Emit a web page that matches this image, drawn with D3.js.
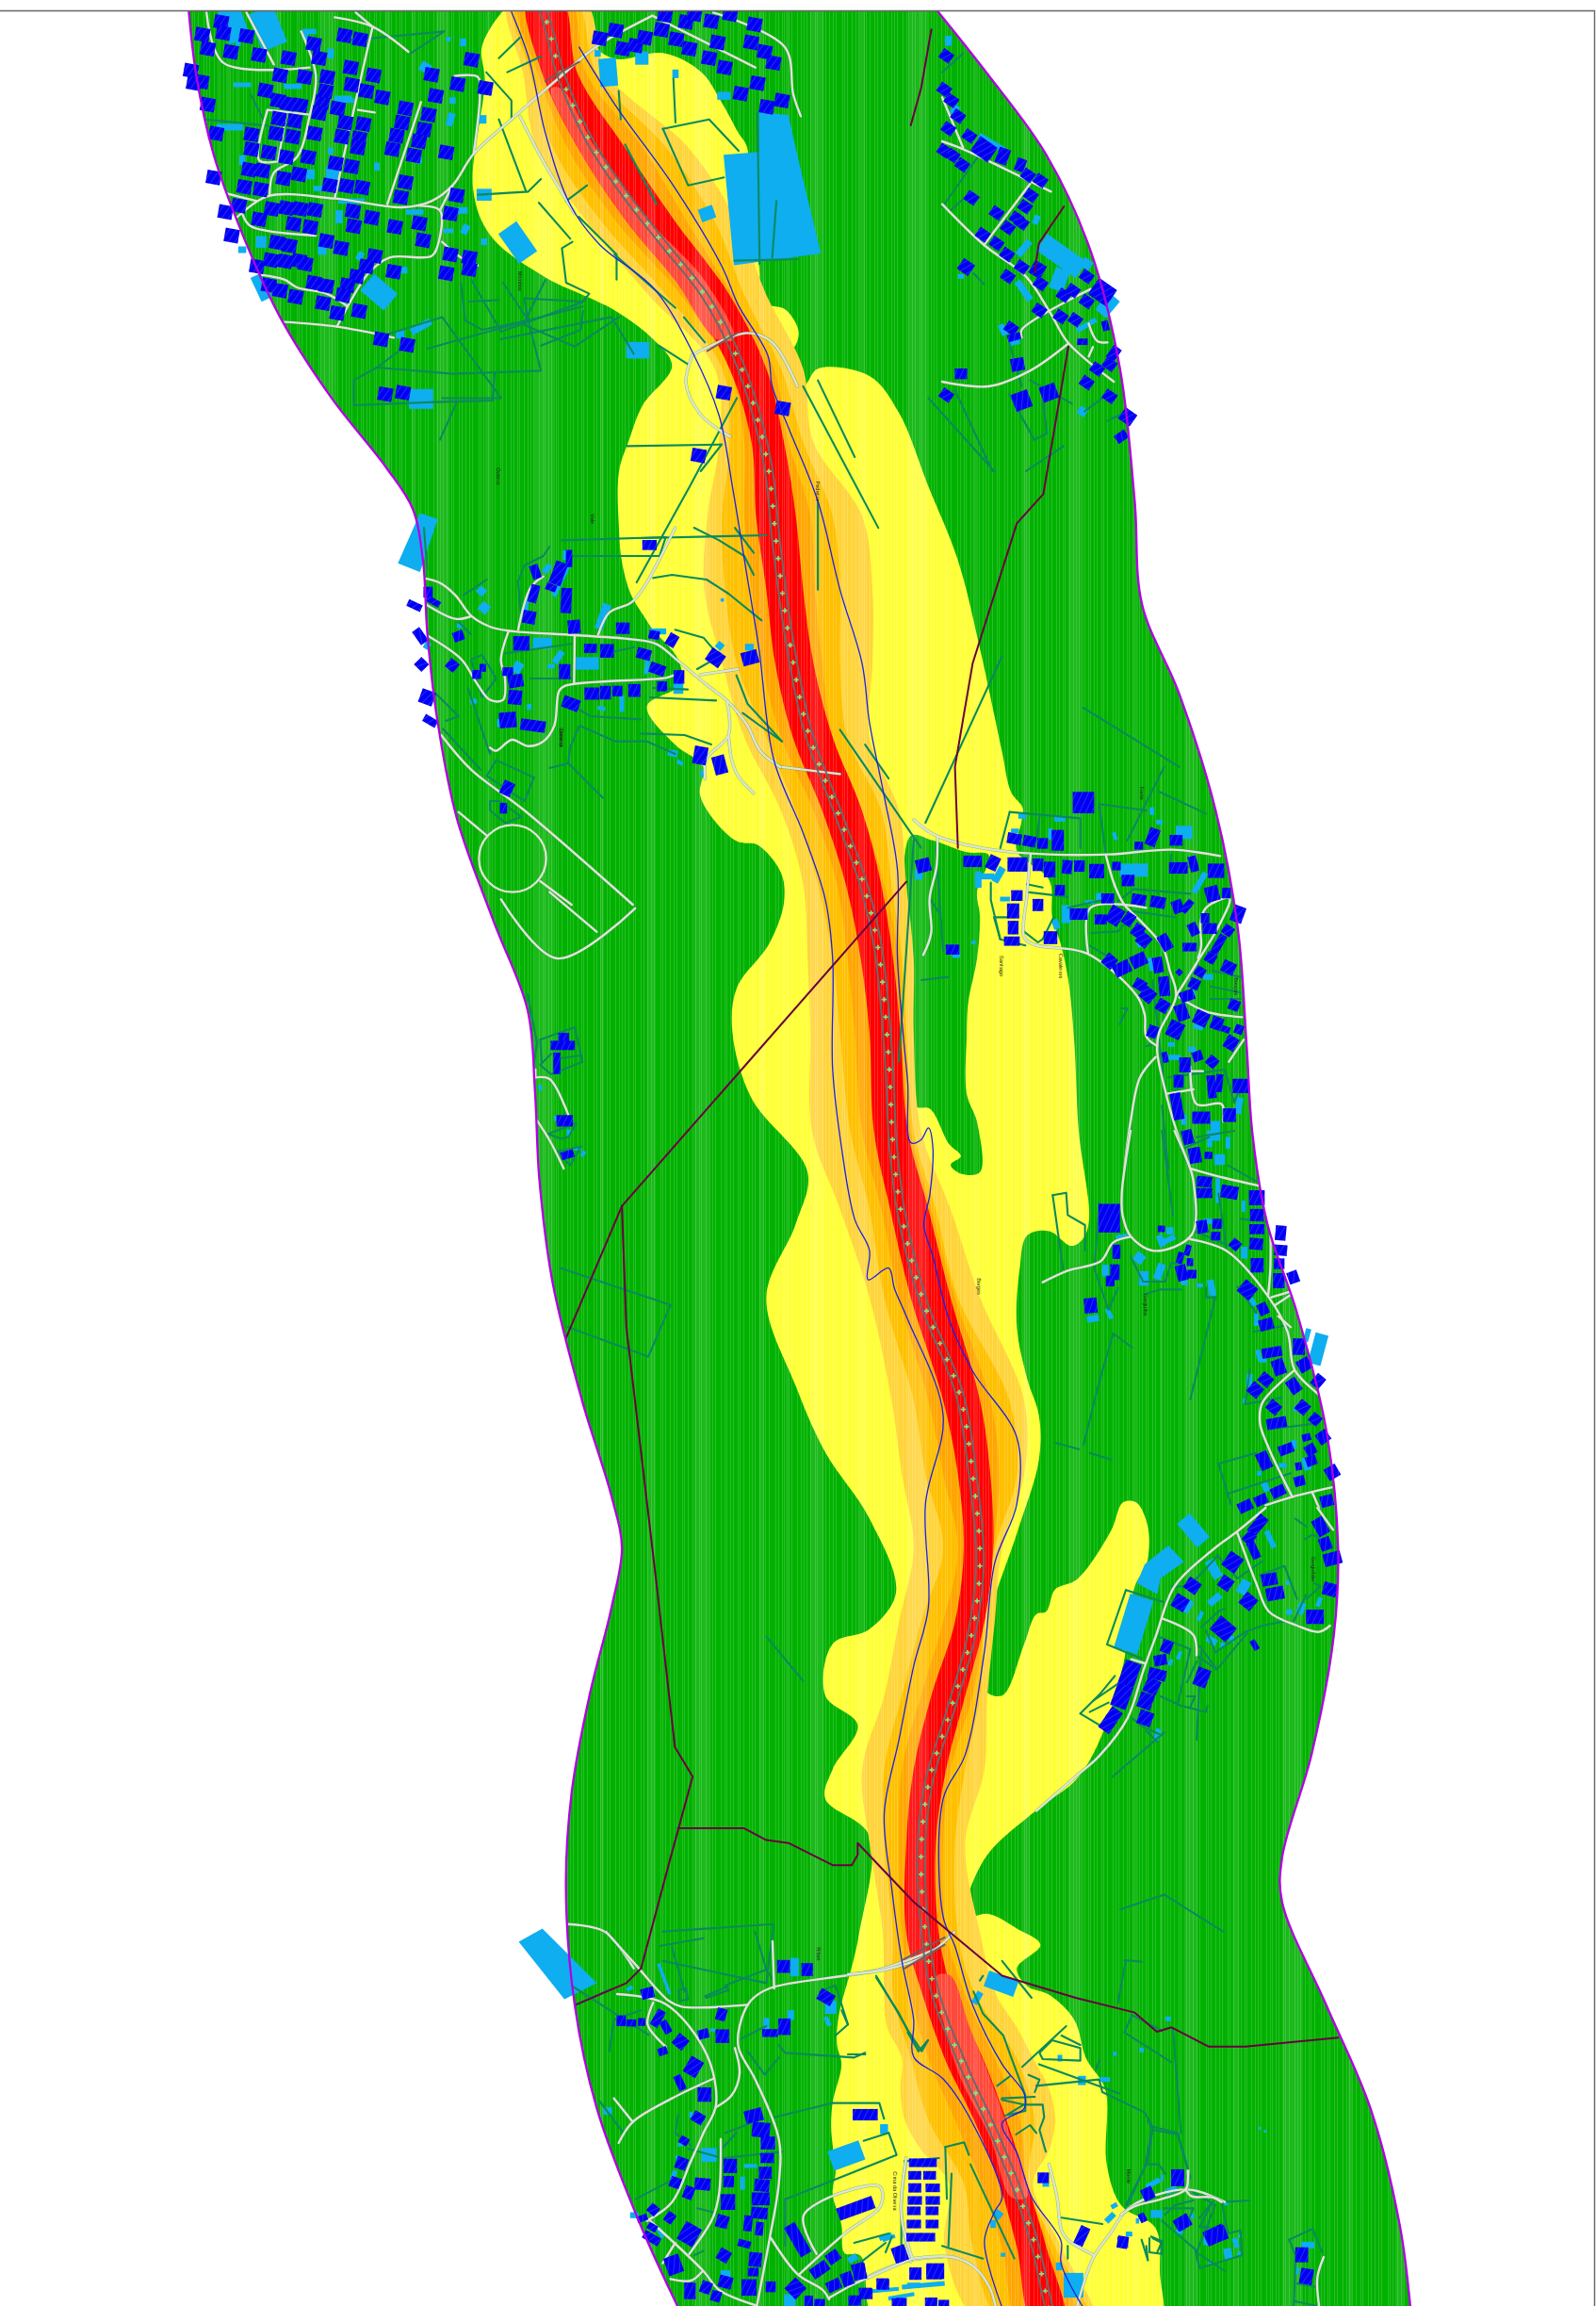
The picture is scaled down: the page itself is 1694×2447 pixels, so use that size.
<!DOCTYPE html>
<html><head><meta charset="utf-8">
<script src="https://cdnjs.cloudflare.com/ajax/libs/d3/7.8.5/d3.min.js"></script>
<style>html,body{margin:0;padding:0;background:#fff}svg{display:block}</style></head><body>
<svg id="map" width="1694" height="2447"></svg>
<script>
// ---- map data: corridor limits, in overview map units ----
const corridorLeft=[[127,-5],[133,50],[145,105],[165,160],[190,215],[225,270],[262,317],[280,345],[287,380],[290,430],[297,490],[310,555],[335,625],[358,685],[363,740],[366,800],[375,870],[395,950],[415,1015],[422,1050],[415,1090],[400,1150],[388,1215],[384,1280],[390,1360],[405,1430],[435,1510],[465,1575]];
const corridorRight=[[626,-5],[670,50],[710,105],[740,170],[760,250],[770,340],[775,410],[800,470],[825,550],[840,630],[846,710],[850,770],[860,830],[880,890],[900,970],[908,1050],[905,1110],[890,1190],[870,1260],[870,1290],[900,1360],[930,1430],[950,1510],[958,1575]];
const roadAxis=[[366,0],[372,18],[381,52],[401,97],[425,133],[450,165],[478,200],[497,235],[510,270],[521,315],[527,370],[535,430],[548,495],[570,555],[586,600],[596,644],[603,717],[606,777],[612,825],[627,884],[651,945],[660,1000],[665,1060],[659,1110],[645,1160],[630,1210],[625,1260],[629,1321],[633,1345],[640,1368],[649,1390],[659,1413],[669,1434],[679,1457],[688,1479],[696,1502],[703,1525],[708,1548],[714,1575]];
// noise bands: [y, left, right]
const bandPale=[[0,345,396],[50,355,412],[100,364,467],[150,398,500],[200,440,520],[250,485,545],[300,488,552],[350,480,585],[400,478,592],[450,490,592],[500,505,590],[550,530,610],[600,545,615],[650,548,620],[700,550,620],[767,551,625],[820,570,645],[880,590,665],[950,605,695],[1000,612,695],[1050,620,680],[1100,610,675],[1150,600,670],[1200,585,668],[1250,590,655],[1311,599,665],[1353,600,676],[1375,602,690],[1396,612,701],[1417,611,712],[1438,614,716],[1458,625,712],[1481,644,701],[1524,641,720],[1575,665,742]];
const bandOrange=[[0,349,390],[50,360,405],[100,375,452],[150,408,485],[200,452,505],[250,490,530],[300,495,545],[350,490,565],[400,492,570],[450,500,570],[500,520,575],[550,540,598],[600,555,605],[650,565,612],[700,570,615],[767,577,620],[820,590,635],[880,600,650],[950,620,685],[1000,628,690],[1050,640,675],[1100,625,668],[1150,612,665],[1200,600,655],[1250,600,648],[1311,606,650],[1353,606,662],[1396,618,690],[1438,630,702],[1481,654,698],[1524,660,716],[1575,680,738]];
const bandDeep=[[0,352,386],[50,365,398],[100,385,436],[150,418,466],[200,462,497],[250,495,525],[300,505,535],[350,505,550],[400,510,553],[450,517,558],[500,530,565],[550,552,585],[600,568,600],[650,575,610],[700,580,612],[767,585,618],[820,598,632],[880,610,648],[950,630,672],[1000,640,678],[1050,650,674],[1100,640,668],[1150,625,660],[1200,612,645],[1250,610,640],[1311,612,642],[1353,618,655],[1396,630,675],[1438,648,692],[1481,666,697],[1524,680,712],[1575,692,730]];
const bandRed=[[0,358,381],[50,368,392],[100,392,424],[150,425,458],[200,466,495],[250,495,520],[300,510,532],[350,513,540],[400,520,545],[450,526,552],[500,538,565],[550,558,585],[600,574,598],[650,584,606],[700,590,611],[767,593,616],[820,604,630],[880,618,645],[950,640,665],[1000,650,672],[1050,654,674],[1100,648,668],[1150,632,655],[1200,620,642],[1250,615,635],[1311,615,637],[1353,626,647],[1396,641,667],[1438,661,683],[1481,678,697],[1524,690,710],[1575,701,722]];
const bandSalmonNorth=[[60,374,381],[100,392,404],[150,425,441],[190,458,478],[230,486,498]];
const bandSalmonSouth=[[1340,636,645],[1375,641,658],[1410,652,672],[1450,672,686],[1490,686,697]];
const yellowOutline=[[340,9],[327,32],[329,55],[321,128],[333,160],[370,188],[400,202],[418,211],[441,228],[456,248],[436,275],[427,298],[420,320],[420,358],[422,381],[428,403],[437,418],[443,427],[460,447],[462,464],[439,479],[458,505],[477,520],[475,539],[486,558],[501,571],[514,573],[530,592],[532,612],[522,640],[500,670],[497,700],[510,745],[548,795],[540,830],[520,880],[540,940],[560,985],[590,1030],[608,1080],[590,1105],[565,1115],[560,1150],[582,1170],[565,1200],[560,1220],[590,1245],[583,1311],[579,1330],[569,1368],[568,1387],[571,1400],[565,1426],[564,1443],[565,1455],[567,1473],[565,1488],[571,1509],[573,1528],[584,1530],[597,1580],[785,1580],[787,1541],[784,1511],[761,1496],[751,1468],[750,1417],[737,1396],[729,1370],[712,1353],[697,1347],[690,1335],[706,1319],[690,1308],[670,1298],[652,1302],[655,1290],[670,1258],[703,1228],[731,1206],[748,1176],[763,1125],[770,1076],[778,1061],[779,1036],[771,1019],[762,1019],[754,1038],[731,1071],[716,1078],[710,1093],[703,1095],[695,1115],[680,1150],[667,1145],[672,1095],[690,1040],[705,990],[705,960],[697,935],[690,900],[692,860],[697,838],[712,835],[727,845],[735,840],[739,827],[732,767],[729,707],[725,665],[720,641],[714,622],[712,597],[690,577],[693,558],[694,548],[686,537],[680,510],[665,440],[650,380],[630,330],[610,280],[590,255],[555,250],[545,262],[530,258],[520,240],[535,240],[542,226],[533,210],[518,205],[515,180],[508,140],[507,100],[501,90],[490,70],[476,49],[450,36],[418,40],[404,32],[390,5],[345,5]];
const greenHole=[[618,567],[633,570],[656,578],[671,580],[663,605],[665,622],[663,650],[657,680],[656,703],[656,742],[663,761],[665,795],[652,796],[645,790],[652,784],[644,776],[631,752],[621,750],[619,703],[616,650]];
const riverWest=[[347,8],[359,40],[370,90],[387,139],[407,166],[444,196],[470,239],[488,282],[497,330],[506,385],[515,440],[525,515],[545,565],[560,610],[565,650],[565,725],[571,778],[580,827],[590,848],[589,868],[603,860],[607,874],[616,895],[640,960],[628,1020],[630,1090],[620,1130],[610,1180],[600,1230],[605,1280],[612,1330],[620,1370],[620,1395],[640,1410],[660,1440],[680,1490],[675,1500],[668,1520],[680,1565]];
const riverEast=[[393,32],[418,72],[457,126],[490,181],[501,207],[521,241],[524,262],[535,290],[555,340],[570,400],[585,450],[590,490],[600,540],[609,590],[609,650],[613,703],[616,735],[618,775],[625,773],[630,765],[633,778],[631,810],[627,831],[633,852],[644,895],[660,930],[690,975],[690,1020],[675,1060],[668,1120],[655,1190],[640,1220],[640,1300],[648,1320],[660,1360],[680,1400],[695,1420],[695,1430],[680,1440],[690,1460],[700,1490],[720,1520],[720,1535],[735,1565]];
const powerLines=[[[632,20],[625,60],[618,85]],[[722,140],[705,165],[702,185]],[[725,235],[708,335],[690,355],[660,450],[648,520],[650,575]],[[615,598],[422,818],[383,910]],[[422,818],[425,900],[445,1070],[458,1185],[470,1205],[455,1260],[435,1335],[425,1345],[390,1360]],[[460,1240],[505,1240],[520,1248],[535,1250],[565,1265],[578,1265],[582,1258],[582,1250],[620,1290],[650,1315],[680,1340],[730,1355],[770,1365],[785,1378],[795,1375],[820,1388],[845,1388],[908,1382]]];
const overpassBars=[[[370,55],[393,42]],[[480,238],[500,226]],[[613,1329],[641,1314]],[[614,1335],[641,1319]]];
const factoryBlock=[[491,105],[515,103],[515,76],[535,78],[541,105],[557,172],[498,180]];
const westApron=[[270,382],[285,348],[297,352],[285,388]];
const southApron=[[352,1317],[368,1308],[405,1345],[383,1356]];
const overviewRoads=[[[385,1305],[410,1310],[430,1335]],[[529,520],[570,525]],[[431,616],[378,650],[340,610]],[[405,632],[373,605]]];
const overviewFences=[[[500,270],[468,330],[432,395]],[[435,365],[520,363]],[[545,262],[596,358]],[[555,258],[580,310]],[[630,270],[675,320]],[[680,445],[628,558]],[[570,495],[625,575]],[[587,505],[603,528]],[[620,570],[610,720]],[[555,340],[555,400]],[[635,575],[640,645]],[[735,480],[800,520]],[[790,520],[765,570]],[[370,190],[355,220],[390,235],[420,215]],[[320,190],[340,225],[395,205]],[[340,230],[415,215],[430,240]],[[262,227],[300,215],[340,270],[300,270]],[[380,860],[455,885],[440,920],[385,900]],[[680,1330],[700,1355]],[[760,1295],[790,1285],[830,1310]],[[705,1400],[760,1420]],[[815,1120],[812,1180]],[[545,1140],[520,1110]],[[385,1345],[440,1380]],[[450,1310],[525,1305],[520,1345],[450,1330]],[[755,1205],[790,1175]]];
// ---- sheet A (north-west) ----
const nwHouses=[[190,70],[195,105],[145,110],[158,155],[213,165],[250,115],[280,175],[350,185],[410,140],[423,185],[483,113],[520,125],[498,215],[552,240],[442,245],[330,240],[388,245],[295,288],[325,320],[348,330],[378,335],[430,325],[438,290],[500,270],[535,290],[573,310],[467,345],[423,360],[327,378],[365,385],[320,425],[360,435],[412,425],[485,390],[528,395],[477,435],[518,440],[515,470],[628,345],[683,365],[620,390],[672,412],[607,432],[660,450],[597,475],[648,495],[725,485],[462,520],[500,530],[397,500],[262,428],[178,425],[262,475],[303,485],[345,500],[256,540],[288,543],[375,555],[338,568],[245,595],[284,603],[448,590],[488,592],[525,597],[628,580],[617,628],[750,622],[735,680],[118,225],[125,265],[143,260],[158,333],[172,565],[200,675],[215,750],[232,655],[280,698],[310,665],[345,662],[378,665],[413,668],[503,672],[548,693],[603,722],[661,711],[505,720],[362,713],[402,723],[275,848],[308,828],[342,832],[375,830],[390,840],[322,772],[352,782],[440,767],[475,790],[670,765],[735,810],[780,820],[780,857],[725,870],[555,815],[535,848],[600,865],[512,880],[490,908],[480,940],[410,900],[440,910],[303,908],[330,925],[367,945],[432,965],[466,997],[518,990],[570,1080],[632,1098],[580,1255],[622,1250],[690,238],[700,305],[752,268],[818,280],[785,190],[1090,122],[1128,97],[1145,155],[1175,145],[1197,120],[1237,95],[1272,125],[1245,48],[1295,70],[1315,45],[1355,68],[1400,45],[1458,78],[1370,135],[1303,155],[1350,185],[1387,215],[1450,135],[1482,165],[1503,200],[1465,265],[1425,298],[1523,320],[1487,340],[1325,1450],[1525,1300],[1385,1250]];
const nwSheds=[[220,75,50,110,-20],[300,90,60,120,-22],[490,320,30,14,0],[240,270,40,14,0],[400,100,30,16,0],[675,215,24,30,30],[815,620,34,36,0],[500,640,60,16,0],[470,690,16,40,0],[650,675,40,16,0],[735,380,16,40,15],[770,730,16,30,25],[730,735,22,14,0],[565,930,70,66,40],[895,772,50,110,-35],[665,1040,50,22,-30],[615,1065,20,24,0],[665,1270,55,60,0],[1110,230,40,85,-5],[1190,185,30,40,0],[1345,680,34,40,-20],[810,380,20,26,0],[1180,1115,52,50,0],[1385,305,30,24,0],[285,915,26,80,-25],[240,795,18,20,0],[765,135,14,24,0],[730,125,10,14,0],[420,600,20,16,0],[480,315,40,20,0],[455,555,30,50,0],[400,555,24,30,0],[360,275,40,16,0],[450,170,14,30,0],[390,110,14,30,0],[240,510,14,30,0],[210,405,60,20,0],[430,790,20,40,0],[285,770,24,36,0],[815,770,14,20,0],[1085,170,14,20,0],[1270,235,14,26,0],[230,130,12,30,0],[560,530,12,24,0],[660,510,14,20,0],[740,320,14,20,0],[760,670,30,20,0],[520,815,14,26,30],[625,860,14,20,0],[450,480,12,20,0]];
const nwRoads=[[[155,40],[195,200],[400,215]],[[250,40],[315,205]],[[380,100],[415,240],[400,370],[370,500],[315,550],[305,620]],[[300,350],[400,365]],[[300,350],[280,510],[320,515]],[[345,360],[325,515]],[[460,55],[550,85],[635,165]],[[510,40],[550,85]],[[550,85],[510,320],[460,630]],[[515,350],[555,358]],[[665,325],[585,650]],[[225,695],[300,625],[460,632],[620,660],[690,640],[740,590],[790,490],[880,380],[1000,240],[1080,150],[1215,50]],[[1215,50],[1460,215]],[[1360,40],[1530,150],[1550,300],[1568,370]],[[745,242],[800,245],[805,300],[790,490]],[[660,655],[710,670],[705,780],[690,815],[590,820],[540,870],[465,1040]],[[710,670],[740,590]],[[200,615],[275,640]],[[240,680],[260,720],[415,750]],[[285,875],[340,890],[370,915],[440,935],[490,975]],[[340,1025],[465,1040],[600,1075]],[[715,770],[760,820],[800,845]],[[900,370],[950,500],[1030,680]],[[1310,1130],[1440,1060],[1500,1090],[1560,1230]],[[1310,1130],[1295,1220],[1330,1320],[1400,1390]]];
const nwFences=[[[820,230],[880,320],[880,380]],[[850,185],[900,120]],[[870,230],[950,180]],[[1240,410],[1350,380],[1420,480]],[[1240,410],[1300,590],[1385,565]],[[1265,250],[1270,390]],[[1135,290],[1140,380]],[[1150,460],[1225,650]],[[1025,770],[1000,790],[1010,900],[1065,935],[1050,960],[910,950],[920,1020],[1050,975]],[[945,645],[1020,760]],[[1060,590],[1010,640]],[[850,380],[915,610]],[[800,620],[920,610],[950,570]],[[1040,690],[1130,810],[1130,890]],[[1125,810],[1270,980]],[[680,1110],[920,1020],[950,1180],[740,1190],[560,1170],[505,1210],[505,1290],[700,1280],[835,1275],[840,1190]],[[950,1100],[1045,1050],[1050,990]],[[760,900],[770,1020],[810,1050],[920,1020]],[[860,900],[920,1020]],[[780,960],[850,955]],[[710,1400],[750,1280]],[[1155,1420],[1380,1415],[1330,1500]],[[1230,1100],[1300,1160]],[[1290,1010],[1340,1090]],[[1465,360],[1470,840]],[[1510,640],[1500,820]],[[1410,830],[1560,825]],[[480,130],[720,100],[640,170]],[[620,1110],[560,1170]],[[150,380],[300,400]],[[260,300],[290,380]]];
// ---- sheet C (north-east) ----
const neHouses=[[10,178],[5,285],[22,320],[38,370],[15,410],[65,433],[100,475,44,50,35],[145,497,25,45,20],[187,525,20,36,20],[205,558],[235,575],[5,480],[25,495],[48,525],[212,622],[198,658],[178,695],[190,710],[157,725],[130,775],[155,810],[97,747],[130,678],[70,630],[57,850,28,36,35],[157,880],[190,850],[228,858,28,40,30],[235,903],[290,940],[312,925],[345,960],[383,930,46,55,35],[345,880],[232,988],[283,1008],[318,1018],[165,1045],[172,1073,28,20,-15],[180,1160,28,36,-10],[45,1190,26,30,0],[255,1250,34,44,-20],[190,1275,36,50,-20],[10,1258],[345,1218],[400,1262],[335,1088,22,18,0],[370,1175],[400,1160],[410,1125,20,40,35],[390,1037,14,28,-15],[443,1327,30,38,35],[428,1390,26,26,-35]];
const neSheds=[[285,815,110,60,35],[395,972,32,66,40],[280,890,34,66,20],[195,925,16,70,-35],[195,790,16,56,40],[345,840,24,30,35],[335,1310,20,26,35],[120,455,70,16,30],[30,350,16,30,30],[172,1090,26,16,-10],[145,1050,14,36,-25],[45,880,14,14,0],[345,1035,50,16,-30],[15,130,16,30,0],[225,700,14,28,20]];
const neRoads=[[[0,450],[50,475],[260,610]],[[0,310],[50,470]],[[0,650],[100,780],[200,880],[260,1000],[300,1090],[410,1215]],[[210,585],[100,780]],[[355,920],[190,1050],[190,1075]],[[300,1095],[210,1180],[110,1230],[0,1215]],[[350,1030],[370,1085],[395,1090]],[[360,1105],[350,1135]]];
const neFences=[[[30,1240],[120,1500]],[[160,1255],[220,1400],[250,1380],[240,1260]],[[210,1210],[310,1285]],[[395,1340],[440,1310]],[[340,1310],[400,1250]],[[200,1500],[290,1420]],[[0,230],[50,170]],[[20,670],[70,610],[90,630]],[[90,490],[0,660]],[[160,1090],[190,1230]],[[75,870],[100,905]]];
// ---- sheet W (west hamlet) ----
const westHouses=[[73,205,26,30,0],[90,235,40,18,30],[30,248,42,20,25],[48,345,25,45,-35],[52,435,30,30,45],[70,540,40,40,20],[80,615,40,22,30],[170,345,30,28,-20],[150,438,30,30,40],[228,467,25,25,0],[247,446,18,22,0],[327,458,30,24,0],[352,488,42,36,-10],[350,540,38,40,5],[327,612,48,44,-5],[407,630,70,32,8],[370,368,45,40,0],[395,285,36,36,10],[415,140,25,40,-20],[488,145,35,65,20],[465,190,30,20,20],[410,210,25,50,15],[522,98,18,48,0],[513,232,30,70,3],[538,315,35,38,-5],[590,384,36,26,0],[643,392,38,38,0],[693,320,38,32,0],[760,402,40,30,15],[803,450,44,30,20],[793,341,30,24,10],[850,358,28,36,30],[988,414,45,40,35],[1098,414,46,38,-15],[872,475,30,38,0],[818,505,28,28,0],[730,518,34,36,0],[676,520,28,30,0],[638,525,30,38,0],[595,528,42,34,0],[528,560,48,34,20],[508,458,32,42,0],[778,55,40,28,0],[940,725,38,50,10],[1002,755,36,52,-15],[325,830,32,40,25],[313,893,20,30,0]];
const westSheds=[[243,202,25,25,45],[252,255,30,30,40],[437,368,58,34,0],[488,412,20,42,35],[580,432,70,38,0],[630,283,26,80,20],[358,445,28,35,30],[495,170,16,100,25],[512,88,18,30,0],[452,130,18,30,40],[852,718,30,20,10],[1002,376,22,22,40],[1096,380,26,20,0],[385,250,14,50,10],[770,440,14,50,5],[805,330,50,18,0],[870,510,30,36,0],[690,560,14,50,0],[395,570,14,18,0],[218,553,20,16,-20],[174,312,18,14,0],[625,575,24,12,10],[300,622,14,24,0],[465,441,22,14,0],[875,748,20,12,30],[70,375,18,22,30],[1010,230,10,10,0],[948,782,14,22,0]];
const westRoads=[[[55,160],[110,175],[160,215],[210,280],[270,315],[330,328],[540,342],[720,355],[800,370],[870,425],[960,500],[1030,555],[1090,630],[1130,710],[1195,762]],[[60,240],[160,290],[210,282]],[[330,328],[305,420],[318,480],[312,548],[270,548],[225,490],[180,420],[65,340]],[[360,325],[400,190],[440,155]],[[540,342],[538,495]],[[855,470],[830,478],[510,503],[490,520],[475,630],[440,680],[390,695],[340,675],[290,710],[270,700]],[[615,340],[650,270],[720,238],[760,190],[860,0]],[[1025,555],[1030,660],[960,735],[955,800]],[[1030,660],[1040,740],[1060,790],[1110,845]],[[940,468],[1060,450]],[[115,660],[210,770],[380,900],[725,1200]],[[170,905],[260,980]],[[430,1125],[530,1200]]];
const westFences=[[[1110,150],[1080,90],[1000,40],[920,0]],[[790,160],[850,150],[960,165],[1030,210],[1135,295]],[[500,40],[830,30],[810,90],[530,90]],[[460,60],[440,90],[380,120],[360,170],[370,290]],[[555,630],[670,680],[770,680],[860,720]],[[520,750],[630,860]],[[460,765],[520,750],[525,700],[555,630]],[[750,655],[890,660],[975,690]],[[860,325],[950,350],[1010,420]],[[780,540],[990,550]],[[1000,410],[930,450]],[[1075,590],[1130,630],[1200,680]],[[290,740],[410,795],[380,870],[260,790],[290,740]],[[185,215],[260,165]],[[270,870],[300,870],[370,920],[320,940],[270,900],[270,870]],[[120,640],[240,770]],[[210,420],[245,405],[290,480],[245,540],[210,420]],[[60,0],[70,130]],[[200,510],[270,720],[270,700]],[[540,570],[590,600],[750,610]],[[1055,470],[1090,560],[1200,680]],[[790,510],[900,515]],[[1050,0],[1110,80]],[[400,480],[530,480]],[[320,400],[530,370]],[[640,400],[730,380]],[[100,530],[170,600],[130,615]],[[170,300],[210,340]]];
// ---- sheet E (east hamlet) ----
const eastHouses=[[540,35,60,60,0],[320,150,40,30,10],[368,158,36,30,10],[410,165,30,30,0],[458,155,34,58,0],[760,145,30,50,20],[835,155,36,30,0],[716,172,24,22,0],[187,222,52,32,0],[252,227,32,40,25],[330,232,56,40,0],[395,233,30,35,0],[432,248,32,44,0],[488,240,28,38,5],[527,237,30,32,0],[582,253,42,40,0],[645,237,24,24,0],[682,283,36,32,0],[842,243,52,32,0],[890,230,24,44,-15],[962,252,46,40,0],[950,325,38,42,-15],[995,323,24,30,0],[30,235,40,38,-15],[123,503,38,28,0],[465,314,28,30,0],[617,340,36,28,0],[716,344,40,30,10],[777,352,42,32,10],[840,366,30,36,-20],[870,365,20,40,40],[525,390,50,32,0],[595,407,34,28,0],[640,395,40,50,30],[684,406,30,36,35],[713,443,30,36,35],[732,472,36,36,40],[800,480,30,46,-30],[878,495,40,24,0],[890,438,26,36,-25],[927,403,24,28,0],[942,436,40,30,0],[1000,442,30,28,35],[970,487,22,60,30],[945,530,30,28,30],[1002,560,38,34,25],[1032,390,34,46,20],[623,540,34,36,40],[663,563,48,36,-25],[716,537,44,36,-25],[777,552,28,44,-10],[845,575,16,16,40],[911,574,28,28,30],[893,612,30,30,25],[797,620,30,55,-5],[720,615,34,30,30],[745,647,38,38,40],[792,682,34,34,30],[870,650,40,30,-20],[853,703,34,46,-20],[915,722,40,40,25],[965,738,32,36,20],[993,757,24,18,20],[1035,757,24,26,20],[1020,680,30,30,20],[832,758,42,46,25],[760,764,28,34,20],[1010,800,34,38,30],[800,846,16,30,-10],[863,870,32,42,0],[903,842,28,28,-20],[950,860,30,30,40],[843,922,28,36,0],[948,940,24,64,-5],[972,928,20,50,5],[1040,937,44,40,0],[838,1002,30,75,-10],[915,1038,50,34,0],[1005,1030,36,38,0],[435,465,38,36,0],[312,476,44,26,0],[316,433,30,38,0],[316,380,34,42,0],[328,331,32,30,0],[395,361,30,34,0]];
const eastSheds=[[465,86,34,18,0],[345,78,24,16,0],[758,62,14,24,0],[782,97,20,14,0],[860,130,50,40,0],[640,142,12,24,-20],[435,135,14,34,0],[322,125,24,14,0],[700,250,85,40,0],[910,290,18,70,30],[485,390,28,55,0],[270,265,22,50,30],[205,280,20,50,0],[235,270,40,18,0],[290,342,30,14,0],[452,422,20,30,-20],[560,352,30,12,0],[590,335,20,24,0],[820,805,22,14,0],[885,820,22,16,0],[830,846,36,16,0],[960,1080,30,60,0],[975,1170,30,30,0],[860,1045,16,30,0],[15,265,24,30,0],[135,522,24,14,0],[937,590,30,18,0],[1035,1000,20,50,10],[755,550,14,40,-10],[730,480,40,16,-30],[190,480,12,12,0],[880,645,30,20,-25],[905,750,30,14,15]];
const eastRoads=[[[0,90],[70,140],[250,185],[430,200],[620,200],[820,185],[975,205]],[[75,145],[72,240],[50,340],[55,450],[30,520]],[[372,200],[360,330],[352,465],[385,488],[550,515],[710,650],[735,710],[740,780],[775,810]],[[612,205],[640,300],[670,360],[720,410],[790,490],[815,570],[835,650],[780,770],[775,830],[800,950],[830,1060],[880,1200]],[[555,515],[562,370],[740,370]],[[835,650],[910,530],[970,430],[1005,340],[930,370],[912,420],[915,490],[905,530]],[[845,655],[930,700],[1045,718]],[[770,845],[720,910],[690,1050],[670,1200]],[[805,962],[890,948]],[[880,875],[900,995],[980,995],[985,1050]],[[880,890],[920,890]],[[1050,790],[1003,860]]];
const eastFences=[[[305,65],[530,85]],[[305,65],[275,180]],[[590,40],[740,60]],[[780,0],[930,70]],[[590,40],[610,190]],[[245,290],[245,345],[275,470],[355,490]],[[275,470],[255,400],[300,400]],[[360,295],[410,305]],[[360,320],[490,335]],[[490,370],[600,345]],[[565,450],[650,445],[690,400]],[[560,490],[610,520]],[[650,350],[700,310],[880,325]],[[690,380],[830,400]],[[820,200],[815,240],[900,240]],[[945,620],[1040,640]],[[950,570],[1040,590]],[[945,660],[1040,660]],[[740,810],[780,800]],[[660,690],[680,690],[655,740]],[[810,910],[990,885],[1020,990],[1045,930]],[[25,600],[110,590]],[[50,340],[80,385]],[[800,960],[760,600]],[[350,445],[395,480],[410,470],[445,400]],[[830,950],[850,950]],[[900,1100],[1020,1080]],[[790,1000],[810,1200]],[[850,1140],[940,1100]],[[530,90],[530,180]],[[400,80],[390,170]]];
// ---- sheet S1 (south-east upper) ----
const se1Houses=[[482,20,30,40,-15],[505,78,34,44,-10],[548,78,22,20,0],[535,162,42,30,5],[535,198,44,28,0],[615,195,48,36,10],[702,213,44,42,0],[702,268,38,34,0],[702,313,42,28,0],[700,360,38,32,5],[703,428,36,40,0],[778,325,30,42,5],[778,380,36,30,5],[773,423,30,30,0],[772,477,32,42,0],[818,466,30,34,-20],[232,278,60,80,0],[528,305,30,36,-10],[575,296,26,28,0],[571,335,26,24,0],[633,362,28,28,40],[398,312,20,18,0],[255,385,22,40,0],[250,450,26,44,0],[235,478,24,30,0],[482,380,16,30,15],[458,404,18,32,15],[489,418,18,22,0],[463,452,30,44,-15],[495,456,26,24,0],[173,556,36,42,-5],[672,506,44,42,40],[722,567,28,34,-25],[732,616,40,32,-15],[836,687,34,46,0],[750,705,56,28,-10],[853,745,36,36,-30],[772,752,34,44,-20],[897,797,30,36,40],[730,792,36,32,40],[820,812,32,42,-35],[697,825,36,36,40],[756,880,36,32,40],[848,880,34,34,40],[888,918,30,30,40],[765,930,56,30,-10],[913,975,34,34,-35],[860,976,24,20,-15],[795,1013,42,28,-20],[873,1015,30,30,-30],[875,1050,30,28,-20],[835,1068,18,22,-10],[942,1087,36,36,-30],[838,1115,30,28,-15],[725,1050,34,50,-25],[770,1148,40,30,-25],[715,1175,36,28,-25],[925,1178,36,32,-15],[665,1195,40,30,-25]];
const se1Sheds=[[552,25,16,50,0],[610,38,14,36,0],[583,93,30,30,0],[578,190,14,75,0],[660,240,12,34,0],[240,310,44,20,0],[272,336,36,12,-10],[397,350,20,36,-20],[425,345,36,16,-25],[425,318,22,22,0],[328,405,30,30,40],[342,470,30,44,0],[392,448,24,50,20],[558,500,20,50,-10],[520,492,20,12,0],[472,484,20,14,0],[180,598,36,20,-10],[232,582,14,34,-25],[662,388,20,36,0],[220,445,20,36,0],[897,695,40,95,15],[862,650,16,40,15],[708,715,14,36,-15],[722,730,22,14,0],[678,795,18,40,5],[690,545,16,24,-30],[700,600,14,40,0],[820,998,16,26,0],[785,1065,24,14,0],[860,1060,22,40,-15],[730,1133,20,30,-20],[710,1090,14,14,0],[545,288,30,16,0],[662,860,10,14,0],[825,885,14,14,0]];
const se1Roads=[[[440,0],[490,120],[500,160],[495,330],[375,382],[300,335],[275,270],[272,200],[300,0]],[[300,337],[245,355],[205,415],[100,445],[20,482]],[[490,120],[600,150],[710,175]],[[490,345],[605,382],[740,530],[800,640],[822,760],[900,840]],[[738,525],[745,440],[745,290]],[[748,530],[815,510]],[[760,555],[820,515]],[[770,590],[810,625]],[[822,762],[720,865],[712,930],[740,1010],[815,1165]],[[730,1192],[815,1165],[940,1135]],[[878,1150],[900,1200]]];
const se1Fences=[[[52,205],[95,197],[100,268],[155,300],[155,380]],[[52,205],[85,440]],[[245,645],[305,690]],[[245,645],[200,800],[150,1000]],[[60,993],[135,1013]],[[170,1025],[240,1047]],[[570,530],[490,855]],[[400,0],[435,270]],[[580,1060],[700,1025]],[[580,1060],[620,1190]],[[610,1155],[810,1090]],[[680,760],[665,870],[780,850]],[[640,495],[700,580]],[[690,640],[790,620]],[[345,520],[395,505],[460,505]],[[540,500],[540,530],[570,530]],[[200,230],[185,440],[230,570],[260,500]],[[510,150],[505,320],[600,360]],[[580,200],[605,370]],[[650,280],[740,290]],[[300,400],[340,480],[410,480],[430,420],[460,425]],[[740,950],[860,935],[900,930]],[[610,110],[700,160]]];
// ---- sheet S2 (south-east lower) ----
const se2Houses=[[705,55,30,60,40],[678,95,28,34,40],[692,135,24,50,-25],[905,60,34,50,-30],[920,115,32,36,-20],[943,162,50,36,-15],[935,260,40,36,15],[887,347,50,40,0],[625,173,44,48,35],[603,240,36,36,35],[497,248,40,36,35],[742,228,44,34,-10],[760,273,50,36,-10],[675,298,40,40,40],[458,302,40,40,30],[595,385,58,50,40],[415,442,30,36,20],[395,485,36,30,-10],[385,530,50,30,15],[368,568,40,42,25],[348,615,40,44,20],[347,670,40,40,20],[527,540,38,52,20],[695,437,16,30,-30],[297,528,46,68,20],[272,600,46,66,20],[247,660,36,36,35],[225,692,36,36,35]];
const se2Sheds=[[500,72,50,95,-40],[310,370,74,170,17],[565,195,30,60,-30],[660,252,30,44,30],[568,292,22,44,50],[485,315,16,40,30],[522,345,12,30,25],[745,100,16,56,-25],[843,320,22,36,20],[900,300,14,30,20],[558,422,34,20,30],[593,437,14,14,0],[622,418,16,20,0],[805,332,18,16,0],[385,722,16,36,15],[455,470,12,26,20],[427,492,12,20,20],[800,238,10,14,0]];
const se2Pools=[[320,240],[345,180],[420,120],[470,172],[395,225],[385,275]];
const se2Roads=[[[730,0],[640,75],[560,135],[440,250],[380,410],[340,520],[290,670],[200,790],[120,860],[0,965]],[[640,80],[700,240],[740,330],[830,375],[900,395],[935,375]],[[895,0],[945,70]],[[400,352],[500,405],[510,470]],[[302,482],[345,495]]];
const se2Fences=[[[285,262],[225,435],[335,480]],[[285,262],[405,300]],[[580,150],[510,225],[470,250],[430,250]],[[575,150],[640,225],[720,170]],[[710,215],[790,185],[830,290]],[[860,275],[820,360]],[[540,390],[570,460],[665,395],[720,375],[795,360]],[[575,515],[670,400]],[[525,380],[580,330],[600,320]],[[510,470],[575,515],[520,440]],[[390,410],[490,450],[450,625]],[[395,600],[460,630],[540,650],[545,630]],[[480,600],[505,600],[490,635]],[[140,655],[205,590],[250,535]],[[140,655],[240,715]],[[170,650],[230,620]],[[180,615],[260,560]],[[305,670],[335,695],[390,720]],[[510,490],[480,555]],[[700,100],[645,90]],[[860,290],[905,250],[885,240]],[[855,100],[880,85],[945,120]],[[825,35],[860,60]],[[350,710],[385,745]]];
// ---- sheet S3 (south-west) ----
const swHouses=[[262,195,36,30,-15],[178,283,26,30,0],[210,290,28,20,0],[243,287,20,22,0],[295,275,24,50,30],[320,303,22,38,-30],[367,350,36,36,40],[310,380,26,22,-20],[408,430,40,50,30],[365,480,22,44,-25],[440,325,30,26,-15],[497,263,28,34,15],[500,332,38,38,0],[443,518,38,40,0],[423,592,34,30,30],[378,665,26,22,30],[370,737,32,34,20],[350,798,30,30,20],[437,803,44,34,5],[393,830,28,36,20],[280,884,28,28,40],[245,912,30,18,-20],[333,910,26,30,35],[277,940,28,20,30],[275,975,50,24,30],[395,962,50,56,30],[345,1060,44,52,-20],[397,1143,32,46,0],[448,1132,30,34,20],[480,1160,28,30,15],[510,1115,38,34,15],[505,1030,34,34,30],[500,922,34,36,15],[518,860,40,44,0],[525,745,38,40,0],[520,795,30,32,0],[600,585,50,36,-15],[623,630,50,42,5],[645,672,40,36,0],[643,720,38,28,0],[637,767,36,34,0],[626,807,42,34,5],[622,850,50,36,0],[618,895,46,32,5],[582,928,24,44,5],[618,945,22,38,5],[570,993,36,20,15],[605,1043,36,40,5],[598,1083,30,24,0],[585,1132,42,46,0],[654,1130,28,30,0],[733,1135,44,44,45],[695,110,36,36,0],[770,120,32,36,0],[830,208,44,34,30],[652,322,44,22,0],[698,302,34,46,0],[955,582,70,32,0],[925,880,105,36,-20],[740,980,34,95,-30],[810,1075,52,32,-35],[853,1035,36,32,-35],[855,1125,40,30,-25],[898,1105,32,38,-20],[937,1082,36,44,-10],[958,1152,36,30,0],[1012,1122,34,30,0],[922,1175,36,26,0],[1115,1088,32,34,0],[1175,1083,44,40,0],[1068,1025,34,44,-20],[1117,735,40,24,0],[1160,735,40,24,0],[1113,775,36,24,0],[1160,775,36,24,0],[1113,815,36,26,0],[1170,815,40,24,0],[1113,855,40,24,0],[1170,855,40,24,0],[1110,888,38,24,0],[1168,888,36,24,0],[1110,930,40,24,0],[1168,930,36,24,0],[1110,972,42,24,0],[1155,972,40,24,0],[1165,1180,34,28,0],[1070,1180,30,26,0],[775,1175,24,30,0],[810,1180,30,20,0]];
const swSheds=[[730,112,26,56,0],[315,150,10,100,-20],[718,265,20,30,0],[640,295,18,40,0],[835,285,14,30,-25],[845,240,36,40,0],[458,710,46,42,0],[590,745,40,12,0],[565,800,14,40,0],[1015,628,24,30,0],[895,712,100,62,-20],[205,180,20,12,-30],[135,570,26,22,0],[345,775,14,30,20],[510,1090,30,24,0],[715,1175,36,40,0],[220,902,26,18,0],[305,958,16,30,-30],[1030,975,40,12,-20],[915,1040,20,14,-30],[1020,1140,80,12,-5],[1110,1125,40,16,0],[365,678,14,10,0],[355,718,8,12,0],[400,582,10,18,0],[470,312,14,10,0]];
const swRoads=[[[130,0],[220,100],[330,220],[370,238],[580,232]],[[165,198],[320,230],[450,390],[480,550],[440,640],[400,730],[340,860],[260,920]],[[280,225],[262,295],[320,365]],[[1190,50],[1000,120],[650,180],[590,220],[555,300],[552,370],[605,470],[680,660],[680,800],[650,980],[610,1190]],[[660,30],[665,180]],[[540,370],[555,450],[530,520],[480,558]],[[470,468],[340,530],[215,605],[170,672]],[[155,530],[215,605]],[[495,660],[490,830],[470,910],[395,1025]],[[265,915],[440,1080],[490,1140],[610,1190]],[[350,990],[310,1055]],[[335,1105],[400,1110],[435,1082]],[[655,975],[740,1090],[820,1140],[840,1170]],[[745,1090],[890,960],[1005,870],[1000,810],[760,900],[800,1025]],[[840,1165],[1000,1080],[1100,1045],[1200,1035]],[[1085,730],[1070,900],[1100,1050]]];
const swFences=[[[300,45],[440,20]],[[340,50],[380,190]],[[445,205],[515,175],[520,185],[450,210],[445,205]],[[360,185],[385,180],[390,215],[365,220],[360,185]],[[510,170],[640,120],[660,150]],[[605,0],[640,120]],[[560,340],[640,300]],[[580,380],[635,455],[680,400]],[[680,360],[700,385],[920,400],[955,385]],[[665,590],[850,545],[1000,545],[1015,595]],[[705,850],[1055,710],[1030,640]],[[700,850],[700,1000]],[[950,665],[1030,640]],[[990,145],[1060,255],[1125,380],[1155,345]],[[1090,320],[1125,380]],[[860,330],[900,295],[880,250]],[[810,190],[860,170],[900,295]],[[140,380],[155,280],[240,250]],[[35,230],[150,180]],[[510,640],[590,610]],[[505,720],[690,700]],[[390,690],[500,720]],[[360,580],[350,640],[400,680]],[[225,850],[340,790]],[[1080,730],[1190,720]],[[930,1060],[1020,990]],[[110,540],[185,640]],[[1020,1020],[1040,970]],[[420,880],[480,895]],[[545,640],[490,700]],[[410,1030],[440,1015]]];
// ---- sheet S4 (south) ----
const sHouses=[[622,783,32,30,0],[1050,782,36,46,0],[955,833,32,34,-25],[938,910,18,26,-25],[1065,925,44,34,-30],[1170,965,60,44,-25],[875,988,30,34,10],[745,968,28,54,25],[215,1088,34,34,0],[278,1080,50,44,0],[35,1080,36,44,-15],[110,1120,34,30,0],[55,1150,36,30,0],[265,1180,34,28,0],[20,1172,30,26,0],[165,1025,38,44,-20],[160,1180,36,24,0],[305,1185,30,24,0]];
const sSheds=[[488,165,95,50,20],[412,210,20,40,30],[675,402,14,20,0],[745,473,24,28,0],[818,470,32,14,0],[848,872,20,14,-30],[835,910,34,18,-45],[970,800,44,14,-30],[1030,822,36,18,-20],[985,900,30,16,0],[630,805,20,12,0],[718,1125,60,75,0],[672,1065,18,24,0],[478,900,24,24,40],[462,930,16,24,0],[895,962,16,14,0],[494,1028,14,12,0],[1020,277,16,14,0],[850,388,12,12,0],[935,376,14,14,0],[120,970,40,14,-20],[240,1125,130,14,-5],[170,1160,80,12,-10],[15,1040,30,20,-30]];
const sRoads=[[[0,135],[120,120],[250,75],[340,0]],[[205,1040],[330,1035],[400,1065],[450,1130],[470,1191]],[[0,1130],[100,1085],[205,1040]],[[185,720],[170,900],[205,1040]],[[1200,860],[1080,820],[900,875],[835,960],[780,1040],[730,1191]],[[1080,820],[1085,760]],[[640,740],[665,840],[680,950],[700,980],[785,1030]]];
const sFences=[[[90,140],[155,250],[195,320],[235,380],[255,345]],[[420,155],[430,140]],[[400,190],[430,260],[495,330],[520,400],[565,520],[565,570],[500,585]],[[475,490],[515,460]],[[490,530],[595,525]],[[490,535],[560,550],[510,580]],[[560,550],[620,550],[625,590],[610,630],[630,700]],[[535,645],[580,615],[600,640]],[[310,685],[370,670],[385,710]],[[310,685],[315,850]],[[390,740],[530,1040]],[[555,430],[695,300]],[[650,345],[740,370],[740,410],[620,405],[610,385],[650,345]],[[680,330],[740,360]],[[575,455],[610,470],[595,510]],[[600,490],[800,470],[810,510],[945,575],[970,620],[1050,640],[1090,780]],[[970,620],[945,750],[890,870]],[[955,740],[990,740],[1010,770]],[[880,90],[935,95]],[[885,90],[860,225]],[[905,265],[880,320],[1030,415]],[[905,265],[1000,315]],[[1035,310],[1045,440],[1060,640]],[[800,410],[790,440]],[[680,910],[810,930]],[[950,1000],[955,1045]],[[965,970],[1000,985],[985,1020]],[[1100,830],[1170,870],[1110,1020],[1200,1080]],[[1005,880],[1100,880],[1070,950]],[[700,1000],[700,1040]],[[300,1000],[430,1040]],[[330,770],[320,1000]],[[0,390],[55,390]],[[20,990],[130,960]],[[170,920],[170,1040]]];
// ---- sheet R (far south-east) ----
const rHouses=[[180,183,36,46,0],[86,235,32,32,-25],[197,325,40,36,-30],[68,310,18,22,-30],[305,365,56,40,-20],[575,428,36,42,0],[590,497,36,44,10],[5,388,30,30,0]];
const rSheds=[[105,200,40,14,-30],[160,222,36,14,-20],[113,298,36,24,0],[185,355,22,14,0],[225,305,16,14,0],[275,385,24,24,0],[340,425,24,34,-10],[365,390,16,30,-15],[375,425,10,16,0],[285,455,10,10,0],[595,397,40,20,0],[562,480,10,20,0],[25,362,20,14,0],[52,320,10,16,0],[440,25,8,8,0],[458,35,8,8,0],[130,183,8,20,0],[380,368,10,10,0],[335,265,14,10,0]];
const rRoads=[[[0,300],[40,275],[130,250],[205,220],[212,160]],[[205,220],[225,242],[290,245],[320,260]],[[645,435],[625,500],[630,590]]];
const rFences=[[[85,130],[100,30],[180,45],[210,150],[220,185]],[[85,130],[15,270]],[[85,0],[100,30]],[[320,260],[410,255]],[[320,260],[340,360],[380,350],[385,430],[250,470],[235,410],[130,320]],[[140,300],[170,270],[230,255]],[[250,310],[290,260],[250,340],[280,340]],[[535,380],[610,345],[640,420]],[[535,380],[555,430],[550,590]],[[550,575],[620,590]],[[560,520],[620,530]],[[65,380],[85,445]],[[90,375],[90,420],[130,425],[130,390],[100,375]]];
// ---- sheet V (west margin, mid height) ----
const vHouses=[[175,185,30,30,0],[172,208,68,26,0],[153,265,20,60,0],[178,448,46,32,0],[187,556,36,22,-15]];
const vSheds=[[100,342,10,18,-10],[190,485,12,18,0],[155,440,20,16,0],[237,553,12,18,30],[220,537,24,10,0]];
const vRoads=[[[85,310],[130,315],[190,430]],[[85,440],[130,510],[175,600]],[[85,310],[85,285]]];
const vFences=[[[100,190],[210,150],[235,260],[135,300],[100,270],[135,235]],[[100,190],[105,260]],[[160,250],[230,240]],[[125,490],[215,455],[190,500],[165,505],[125,490]],[[155,545],[230,530],[195,590],[155,545]],[[60,45],[90,200],[75,300]]];
// ---- labels ----
const placeNames=[["Moinhos","A",900,895],["Devesa","W",497,670],["Santiago","E",280,555],["Cavaleiros","E",468,555],["Bouças","E",1025,620],["Borges","Z",868,1095],["Gorgulha","S1",347,553],["Gorgulhão","S2",883,195],["Ribas","S3",808,70],["Cima da Oliveira","S3",1050,825],["Monte","S4",895,778],["Outeiro","M",338,323],["Vale","M",402,352],["Pedreira","M",555,333],["Lameira","M",381,500],["Fonte","M",775,538]];
// texture of the grid columns: gaps between lighter hairlines
const hairlineGaps=[3,2,4,1,3,5,2,2,4,3,1,3,6,2,3,1,4,2,5,3,2,2,3,4,1,5,2,3,3,2,6,1,2,4,3,2,5,1,3,4,2,3,1,4,3,2,2,5,3,1];
const wideBands=[[12,5],[40,3],[66,14],[118,6],[170,22],[240,4],[290,9],[340,16]];

// ---- scales ----
const sheet=(x0,y0,kx,ky)=>({x:d3.scaleLinear().domain([0,1000]).range([x0,x0+1000/kx]),y:d3.scaleLinear().domain([0,1000]).range([y0,y0+1000/ky]),kx,ky});
const M=sheet(0,0,1083/1694,1564/2447);
const sheets={M,A:sheet(150,0,2.24,3),C:sheet(1000,0,2.25,3),W:sheet(430,560,3,3),E:sheet(970,840,3,3),S1:sheet(1100,1200,3,3),S2:sheet(1100,1600,3,3),S3:sheet(600,2050,3,3),S4:sheet(900,2050,3,3),Z:sheet(750,1000,3,3),R:sheet(1190,2250,3,3),V:sheet(540,1040,3,3)};

const svg=d3.select("#map");
const defs=svg.append("defs");
const lineOf=(s,c)=>d3.line().x(d=>s.x(d[0])).y(d=>s.y(d[1])).curve(c||d3.curveLinear);
const band=(rows)=>rows.map(r=>[r[1],r[0]]).concat(rows.slice().reverse().map(r=>[r[2],r[0]]));
const smooth=d3.curveCatmullRomClosed.alpha(0.5);
const edge=d3.line().x(d=>M.x(d[0])).y(d=>M.y(d[1])).curve(d3.curveCatmullRom.alpha(0.5));
const closedCorridor=edge(corridorLeft)+"L"+edge(corridorRight.slice().reverse()).slice(1)+"Z";
defs.append("clipPath").attr("id","cor").append("path").attr("d",closedCorridor);
defs.append("clipPath").attr("id","page").append("rect").attr("x",0).attr("y",11).attr("width",1692).attr("height",2436);

// hairline texture
let run=0;const hair=[];hairlineGaps.forEach(g=>{run+=g;hair.push(run);run+=1});
const pat=defs.append("pattern").attr("id","hair").attr("patternUnits","userSpaceOnUse").attr("width",run).attr("height",40);
pat.selectAll("rect").data(hair).join("rect").attr("x",d=>d).attr("y",0).attr("width",1).attr("height",40).attr("fill","#fff").attr("fill-opacity",.16);
const pat2=defs.append("pattern").attr("id","wide").attr("patternUnits","userSpaceOnUse").attr("width",397).attr("height",40);
pat2.selectAll("rect").data(wideBands).join("rect").attr("x",d=>d[0]).attr("y",0).attr("width",d=>d[1]).attr("height",40).attr("fill","#fff").attr("fill-opacity",.1);
const bpat=defs.append("pattern").attr("id","bld").attr("patternUnits","userSpaceOnUse").attr("width",6).attr("height",6).attr("patternTransform","rotate(25)");
bpat.append("rect").attr("width",6).attr("height",6).attr("fill","#0000f4");
bpat.append("rect").attr("width",1).attr("height",6).attr("fill","#2c2cf0");

const root=svg.append("g").attr("clip-path","url(#page)");
const zone=root.append("g").attr("clip-path","url(#cor)");
zone.append("path").attr("d",closedCorridor).attr("fill","#00b200");
zone.append("path").attr("d",lineOf(M,smooth)(yellowOutline)).attr("fill","#ffff38");
zone.append("path").attr("d",lineOf(M,smooth)(greenHole)).attr("fill","#00b200");
[[bandPale,"#ffd43a"],[bandOrange,"#ffc000"],[bandDeep,"#ffa600"],[bandRed,"#ff0000"],[bandSalmonNorth,"#ff4a3a"],[bandSalmonSouth,"#ff4a3a"]].forEach(([rows,col])=>{
  zone.append("path").attr("d",lineOf(M,smooth)(band(rows))).attr("fill",col);
});
zone.append("rect").attr("width",1694).attr("height",2447).attr("fill","url(#hair)");
zone.append("rect").attr("width",1694).attr("height",2447).attr("fill","url(#wide)");

const poly=(g,s,pts,col)=>g.append("path").attr("d",lineOf(s)(pts)+"Z").attr("fill",col);
const SHED="#0eaef0",HOUSE="url(#bld)",FENCE="#0a8a5c",ROAD="#e2e2d6",GROW=1.14;
const sheds=root.append("g"),fences=root.append("g").attr("clip-path","url(#cor)"),roads=root.append("g").attr("clip-path","url(#cor)"),houses=root.append("g");

poly(sheds,M,factoryBlock,SHED);poly(sheds,M,westApron,SHED);poly(sheds,M,southApron,SHED);poly(sheds,sheets.S2,se2Pools,SHED);
function boxes(g,s,rows,col,dw,dh,da,grow){
  g.selectAll(null).data(rows).join("rect")
   .attr("x",d=>-(d[2]||dw)*grow/s.kx/2).attr("y",d=>-(d[3]||dh)*grow/s.ky/2)
   .attr("width",d=>(d[2]||dw)*grow/s.kx).attr("height",d=>(d[3]||dh)*grow/s.ky)
   .attr("transform",d=>`translate(${s.x(d[0])},${s.y(d[1])}) rotate(${d[4]===undefined?da:d[4]})`)
   .attr("fill",col);
}
function linework(g,s,rows,col,w,curve,op){
  g.selectAll(null).data(rows).join("path").attr("d",d=>lineOf(s,curve)(d)).attr("fill","none").attr("stroke",col).attr("stroke-width",w).attr("stroke-opacity",op||1).attr("stroke-linejoin","round").attr("stroke-linecap","round");
}
const layers=[["A",nwSheds,nwHouses,nwRoads,nwFences,10],["C",neSheds,neHouses,neRoads,neFences,35],["W",westSheds,westHouses,westRoads,westFences,0],["E",eastSheds,eastHouses,eastRoads,eastFences,0],["S1",se1Sheds,se1Houses,se1Roads,se1Fences,0],["S2",se2Sheds,se2Houses,se2Roads,se2Fences,0],["S3",swSheds,swHouses,swRoads,swFences,0],["S4",sSheds,sHouses,sRoads,sFences,0],["R",rSheds,rHouses,rRoads,rFences,0],["V",vSheds,vHouses,vRoads,vFences,0]];
const soft=d3.curveCatmullRom.alpha(.5);
linework(fences,M,overviewFences,FENCE,2.1);
linework(roads,M,overviewRoads,"#2f9a5a",3.4,soft,.55);
linework(roads,M,overviewRoads,ROAD,2.4,soft);
layers.forEach(([k,sh,ho,ro,fe,a])=>{
  const s=sheets[k];
  boxes(sheds,s,sh,SHED,30,30,a,1.05);
  linework(fences,s,fe,FENCE,2.1);
  linework(roads,s,ro,"#2f9a5a",3.4,soft,.55);
  linework(roads,s,ro,ROAD,2.4,soft);
  boxes(houses,s,ho,HOUSE,k==="A"?30:26,k==="A"?38:30,a,GROW);
});
// sports ground
const W=sheets.W;
roads.append("circle").attr("cx",W.x(342)).attr("cy",W.y(1053)).attr("r",107/3).attr("fill","none").attr("stroke",ROAD).attr("stroke-width",2.3);

// motorway: two carriageway lines, markers, cross overpasses
const axisPath=lineOf(M,soft)(roadAxis);
const roadsTop=root.append("g").attr("clip-path","url(#cor)");
const offset=(pts,dx)=>pts.map(p=>[p[0]+dx,p[1]]);
roadsTop.append("path").attr("d",lineOf(M,soft)(offset(roadAxis,-2.6))).attr("fill","none").attr("stroke","#6a6a6a").attr("stroke-width",1.9);
roadsTop.append("path").attr("d",lineOf(M,soft)(offset(roadAxis,2.6))).attr("fill","none").attr("stroke","#6a6a6a").attr("stroke-width",1.9);
const probe=roadsTop.append("path").attr("d",axisPath).attr("fill","none").attr("stroke","none");
const L=probe.node().getTotalLength();
d3.range(6,L,18.6).forEach(l=>{const p=probe.node().getPointAtLength(l);
  roadsTop.append("path").attr("transform",`translate(${p.x},${p.y})`).attr("d","M-2.6,0H2.6M0,-2.6V2.6").attr("stroke","#7fe58a").attr("stroke-width",1.7);
});
linework(roadsTop,M,overpassBars,"#7a5a5e",2);
// water and power
linework(roadsTop,M,[riverWest,riverEast],"#1c20e6",1.3,soft);
linework(roadsTop,M,powerLines,"#6a0040",2);
// corridor edge
root.append("path").attr("d",edge(corridorLeft)).attr("fill","none").attr("stroke","#b400e4").attr("stroke-width",2.3);
root.append("path").attr("d",edge(corridorRight)).attr("fill","none").attr("stroke","#b400e4").attr("stroke-width",2.3);
// labels
root.selectAll("text").data(placeNames).join("text")
  .attr("transform",d=>`translate(${sheets[d[1]].x(d[2])},${sheets[d[1]].y(d[3])}) rotate(90)`)
  .attr("text-anchor","middle").attr("dy","0.35em").attr("font-family","Liberation Sans, sans-serif").attr("font-size",5.6).attr("fill","#222").text(d=>d[0]);
// frame
svg.append("path").attr("d","M0,11.5H1692.5V2447").attr("fill","none").attr("stroke","#666").attr("stroke-width",1.4);
</script></body></html>
